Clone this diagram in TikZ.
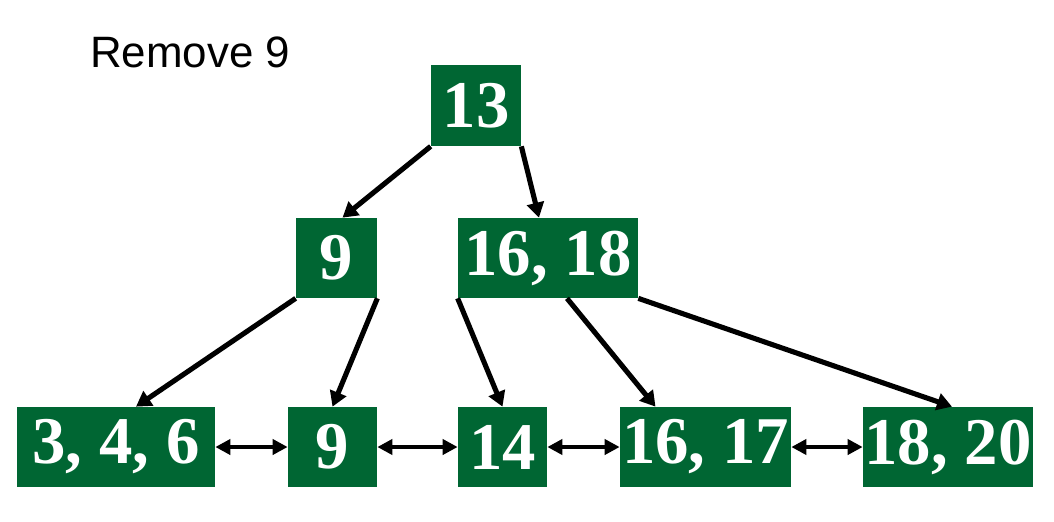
\documentclass[tikz,border=0pt]{standalone}
\usepackage{fontspec}
\setmainfont{Liberation Serif}
\setsansfont{Liberation Sans}
\usepackage{xcolor}
\usetikzlibrary{arrows.meta}
\definecolor{treegreen}{RGB}{0,102,51}

\begin{document}
\begin{tikzpicture}[x=0.02cm,y=-0.02cm,
    key/.style={fill=treegreen,text=white,inner sep=0pt,minimum height=1.6cm,font=\fontsize{38}{38}\selectfont\bfseries},
    link/.style={line width=2.9pt,-{Triangle[length=0.3cm,width=0.34cm]}},
    leaf/.style={line width=2.6pt,{Triangle[length=0.3cm,width=0.3cm]}-{Triangle[length=0.3cm,width=0.3cm]}}]
    \useasboundingbox (0,0) rectangle (1054,521);

    % Title
    \node[anchor=base west,font=\sffamily\fontsize{25}{25}\selectfont] (title) at (84,67) {Remove 9};

    % Root
    \node[key,minimum width=1.8cm,minimum height=1.62cm] (r13) at (476,105.5) {13};

    % Inner level
    \node[key,minimum width=1.62cm] (i9) at (336.5,258) {9};
    \node[key,minimum width=3.6cm] (i1618) at (548,258) {16, 18};

    % Leaves
    \node[key,minimum width=3.96cm] (l346) at (116,447) {3, 4, 6};
    \node[key,minimum width=1.78cm] (l9) at (332.5,447) {9};
    \node[key,minimum width=1.78cm] (l14) at (502.5,447) {14};
    \node[key,minimum width=3.42cm] (l1617) at (705.5,447) {16, 17};
    \node[key,minimum width=3.4cm] (l1820) at (948,447) {18, 20};

    % Root to inner
    \draw[link] (r13.south west) -- ([xshift=0.12cm]i9.north);
    \draw[link] (r13.south east) -- ([xshift=-0.18cm]i1618.north);

    % Inner to leaves
    \draw[link] (i9.south west) -- ([xshift=0.4cm]l346.north);
    \draw[link] (i9.south east) -- (l9.north);
    \draw[link] (i1618.south west) -- (l14.north);
    \draw[link] ([xshift=0.38cm]i1618.south) -- ([xshift=-1cm]l1617.north);
    \draw[link] (i1618.south east) -- ([xshift=0.08cm]l1820.north);

    % Leaf chain
    \draw[leaf] (l346.east) -- (l9.west);
    \draw[leaf] (l9.east) -- (l14.west);
    \draw[leaf] (l14.east) -- (l1617.west);
    \draw[leaf] (l1617.east) -- (l1820.west);
\end{tikzpicture}
\end{document}
